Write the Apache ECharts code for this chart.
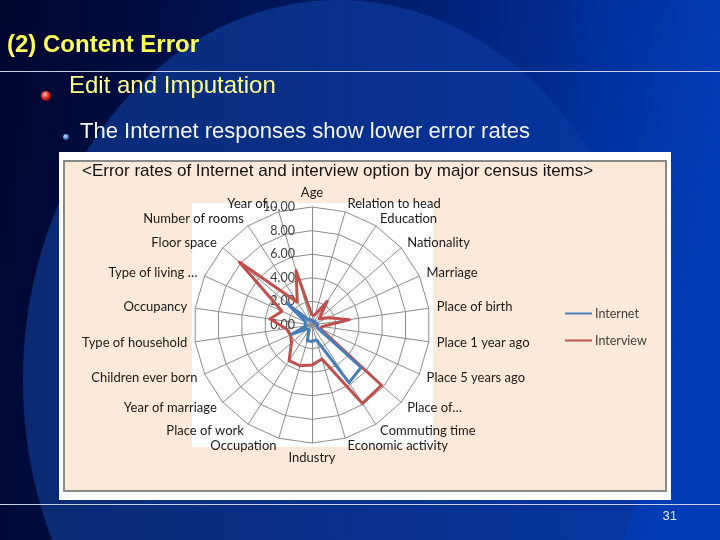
<!DOCTYPE html>
<html><head><meta charset="utf-8">
<script src="https://cdn.jsdelivr.net/npm/echarts@6/dist/echarts.min.js"></script>
<style>html,body{margin:0;padding:0;background:#000;}#c{width:720px;height:540px;}</style>
</head><body><div id="c"></div>
<script>
// ---- data (clockwise from top, as in the reference) ----
const categories = ['Age','Relation to head','Education','Nationality','Marriage','Place of birth','Place 1 year ago','Place 5 years ago','Place of…','Commuting time','Economic activity','Industry','Occupation','Place of work','Year of marriage','Children ever born','Type of household','Occupancy','Type of living …','Floor space','Number of rooms','Year of…'];
const internet  = [0.3,0.3,0.4,0.3,0.4,0.5,0.4,0.5,5.5,5.8,1.3,1.4,1.4,0.5,0.5,1.9,0.5,0.6,0.6,2.8,0.5,0.5];
const interview = [0.8,0.9,2.4,0.8,1.5,3.2,0.9,0.8,7.8,7.9,3.0,3.4,3.6,3.6,2.3,2.0,2.2,3.6,2.8,8.15,2.3,4.8];
const tickLabels = ['0.00','2.00','4.00','6.00','8.00','10.00'];
const seriesNames = ['Internet','Interview'];
const chartTitle = '<Error rates of Internet and interview option by major census items>';

// ECharts radar runs counter-clockwise: reorder so the picture runs clockwise
const order = [0].concat(categories.map((_, i) => i).slice(1).reverse());
const axisMax = parseFloat(tickLabels[tickLabels.length - 1]);
const indicator = order.map((i, k) => {
  const o = { name: categories[i], min: 0, max: axisMax };
  if (k === 0) o.axisLabel = { show: true, color: '#404040', fontFamily: 'Lato', fontSize: 12.5, margin: 17, showMinLabel: true, formatter: v => v.toFixed(2) };
  return o;
});
const reorder = arr => order.map(i => arr[i]);

const chart = echarts.init(document.getElementById('c'), null, { renderer: 'canvas' });
const bullet = (cx, cy, r, c0, c1, c2) => ({
  type: 'circle', z: 1, shape: { cx, cy, r },
  style: { fill: { type: 'radial', x: 0.4, y: 0.35, r: 0.75, colorStops: [{ offset: 0, color: c0 }, { offset: 0.5, color: c1 }, { offset: 1, color: c2 }] } }
});
chart.setOption({
  animation: false,
  graphic: [
    { type: 'rect', z: 0, shape: { x: 0, y: 0, width: 720, height: 540 },
      style: { fill: { type: 'linear', x: 0, y: 0, x2: 1, y2: 0.2, colorStops: [{ offset: 0, color: '#00052c' }, { offset: 0.5, color: '#001a66' }, { offset: 1, color: '#003cb6' }] } } },
    { type: 'ellipse', z: 0, shape: { cx: 338, cy: 380, rx: 315, ry: 380 },
      style: { fill: { type: 'linear', x: 0, y: 0, x2: 1, y2: 0, colorStops: [{ offset: 0, color: '#0b2a72' }, { offset: 1, color: '#0636a2' }] } } },
    { type: 'line', z: 1, shape: { x1: 0, y1: 71.5, x2: 720, y2: 71.5 }, style: { stroke: '#c8cfe0', lineWidth: 1 } },
    { type: 'line', z: 1, shape: { x1: 0, y1: 504.5, x2: 720, y2: 504.5 }, style: { stroke: '#c8cfe0', lineWidth: 1 } },
    { type: 'text', z: 1, style: { x: 7, y: 45, text: '(2) Content Error', fill: '#ffff55', font: 'bold 24px "Liberation Sans"', verticalAlign: 'middle' } },
    { type: 'text', z: 1, style: { x: 69, y: 86, text: 'Edit and Imputation', fill: '#ffff88', font: '24px "Liberation Sans"', verticalAlign: 'middle' } },
    { type: 'text', z: 1, style: { x: 80, y: 132, text: 'The Internet responses show lower error rates', fill: '#f4f4f4', font: '22px "Liberation Sans"', verticalAlign: 'middle' } },
    { type: 'text', z: 1, style: { x: 677, y: 516, text: '31', fill: '#e8e8f0', font: '13px "Liberation Sans"', verticalAlign: 'middle', align: 'right' } },
    bullet(46, 96, 5, '#ffc0b0', '#e02828', '#700808'),
    bullet(66, 137, 3, '#d0e8ff', '#5a90d8', '#1a3a80'),
    { type: 'rect', z: 1, shape: { x: 59, y: 152, width: 612, height: 348 }, style: { fill: '#ffffff' } },
    { type: 'rect', z: 1, shape: { x: 64, y: 161, width: 602, height: 330 }, style: { fill: '#fde9d9', stroke: '#8a8a8a', lineWidth: 2 } },
    { type: 'rect', z: 1, shape: { x: 192, y: 203, width: 241, height: 244 }, style: { fill: '#ffffff' } },
    { type: 'text', z: 1, style: { x: 82, y: 171, text: chartTitle, fill: '#111111', font: '17px "Liberation Sans"', verticalAlign: 'middle' } }
  ],
  legend: {
    z: 8, orient: 'vertical', left: 560, top: 302, icon: 'rect', itemWidth: 27, itemHeight: 2, itemGap: 14,
    data: seriesNames,
    textStyle: { fontFamily: 'Lato', fontSize: 12.5, color: '#404040', padding: [0, 0, 0, -2] }
  },
  radar: {
    z: 3,
    center: [312, 325], radius: 118, startAngle: 90, splitNumber: tickLabels.length - 1, shape: 'polygon',
    indicator: indicator,
    axisName: { color: '#1a1a1a', fontFamily: 'Lato', fontSize: 13 },
    axisNameGap: 8,
    splitLine: { lineStyle: { color: '#8c8c8c', width: 1 } },
    splitArea: { show: false },
    axisLine: { lineStyle: { color: '#8c8c8c', width: 1 } },
    axisTick: { show: false },
    axisLabel: { show: false }
  },
  series: [
    { type: 'radar', name: seriesNames[1], z: 5, symbol: 'none', color: '#c0504d',
      lineStyle: { color: '#c0504d', width: 3 }, data: [{ value: reorder(interview), name: seriesNames[1] }] },
    { type: 'radar', name: seriesNames[0], z: 6, symbol: 'none', color: '#4a7ebb',
      lineStyle: { color: '#4a7ebb', width: 3 }, data: [{ value: reorder(internet), name: seriesNames[0] }] }
  ]
});
</script></body></html>
